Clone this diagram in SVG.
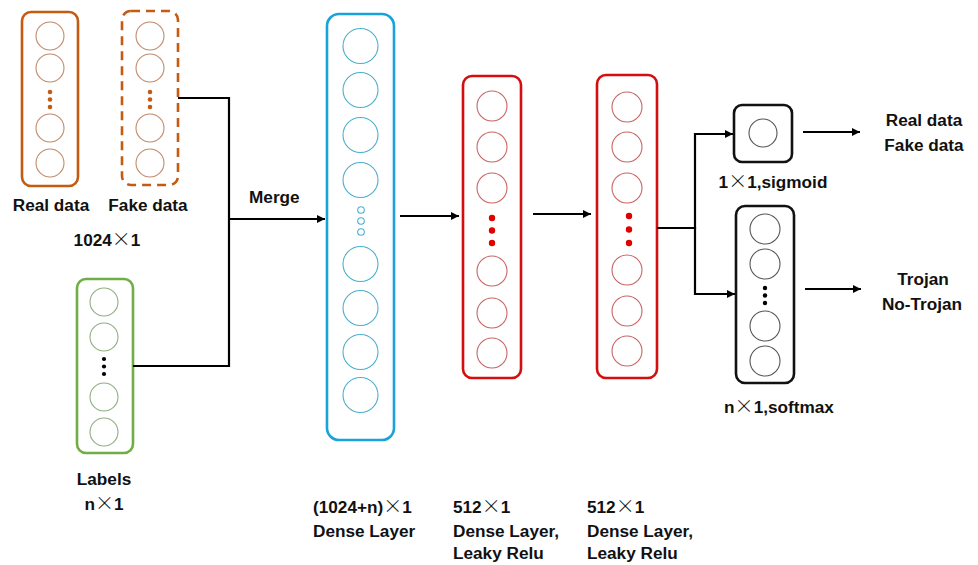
<svg xmlns="http://www.w3.org/2000/svg" width="978" height="565" viewBox="0 0 978 565">
  <defs>
    <marker id="arr" viewBox="0 0 10 10" refX="10" refY="5" markerWidth="9" markerHeight="8" markerUnits="userSpaceOnUse" orient="auto">
      <path d="M0,0 L10,5 L0,10 z" fill="#000"/>
    </marker>
    <style>
      text { font-family: "Liberation Sans", Arial, sans-serif; font-weight: bold; font-size: 17.2px; fill: #111; }
      .x { font-family: "Noto Sans CJK SC", "DejaVu Sans", sans-serif; font-weight: 300; font-size: 19px; }
      .mid { text-anchor: middle; }
      .box { fill: #fff; stroke-width: 2.6; }
      .orange { stroke: #C55A11; }
      .green { stroke: #70AD47; }
      .blue { stroke: #1AA3DB; }
      .red { stroke: #D40E0E; }
      .black { stroke: #111; }
      .n { fill: none; stroke-width: 1.1; }
      .no { stroke: #C08A68; }
      .ng { stroke: #8FAD80; }
      .nb { stroke: #4BAFCB; }
      .nr { stroke: #C86464; }
      .nk { stroke: #555; }
      .link { fill: none; stroke: #000; stroke-width: 2.2; }
    </style>
  </defs>

  <!-- input: real data -->
  <g id="real-data">
    <rect class="box orange" x="22" y="12" width="56" height="174" rx="9"/>
    <g class="n no">
      <circle cx="50" cy="36" r="14"/>
      <circle cx="50" cy="68" r="14"/>
      <circle cx="50" cy="128" r="14"/>
      <circle cx="50" cy="163" r="14"/>
    </g>
    <g fill="#C55A11">
      <circle cx="50" cy="92" r="2.3"/>
      <circle cx="50" cy="99.5" r="2.3"/>
      <circle cx="50" cy="107" r="2.3"/>
    </g>
    <text class="mid" x="51" y="211">Real data</text>
  </g>

  <!-- input: fake data -->
  <g id="fake-data">
    <rect class="box orange" x="122" y="11" width="56" height="174" rx="9" stroke-dasharray="9 6"/>
    <g class="n no">
      <circle cx="150" cy="36" r="14"/>
      <circle cx="150" cy="68" r="14"/>
      <circle cx="150" cy="128" r="14"/>
      <circle cx="150" cy="163" r="14"/>
    </g>
    <g fill="#C55A11">
      <circle cx="150" cy="92" r="2.3"/>
      <circle cx="150" cy="99.5" r="2.3"/>
      <circle cx="150" cy="107" r="2.3"/>
    </g>
    <text class="mid" x="148" y="211">Fake data</text>
    <text class="mid" x="107" y="246">1024<tspan class="x">×</tspan>1</text>
  </g>

  <!-- input: labels -->
  <g id="labels">
    <rect class="box green" x="77" y="279" width="56" height="174" rx="9"/>
    <g class="n ng">
      <circle cx="104" cy="302" r="14"/>
      <circle cx="104" cy="337" r="14"/>
      <circle cx="104" cy="397" r="14"/>
      <circle cx="104" cy="432" r="14"/>
    </g>
    <g fill="#000">
      <circle cx="104" cy="359" r="2.1"/>
      <circle cx="104" cy="366.5" r="2.1"/>
      <circle cx="104" cy="374" r="2.1"/>
    </g>
    <text class="mid" x="104" y="485">Labels</text>
    <text class="mid" x="104" y="510">n<tspan class="x">×</tspan>1</text>
  </g>

  <!-- merged dense layer -->
  <g id="dense-merge">
    <rect class="box blue" x="327" y="14" width="67" height="426" rx="12"/>
    <g class="n nb">
      <circle cx="360.5" cy="46" r="17.5"/>
      <circle cx="360.5" cy="90" r="17.5"/>
      <circle cx="360.5" cy="135" r="17.5"/>
      <circle cx="360.5" cy="180" r="17.5"/>
      <circle cx="361" cy="210" r="3.3"/>
      <circle cx="361" cy="221" r="3.3"/>
      <circle cx="361" cy="232" r="3.3"/>
      <circle cx="360.5" cy="264" r="17.5"/>
      <circle cx="360.5" cy="308" r="17.5"/>
      <circle cx="360.5" cy="352" r="17.5"/>
      <circle cx="360.5" cy="395" r="17.5"/>
    </g>
    <text x="313" y="513">(1024+n)<tspan class="x">×</tspan>1</text>
    <text x="313" y="537">Dense Layer</text>
  </g>

  <!-- hidden layer 1 -->
  <g id="dense-512-a">
    <rect class="box red" x="463" y="76" width="58" height="302" rx="9"/>
    <g class="n nr">
      <circle cx="492" cy="106" r="15"/>
      <circle cx="492" cy="147" r="15"/>
      <circle cx="492" cy="188" r="15"/>
      <circle cx="492" cy="271" r="15"/>
      <circle cx="492" cy="313" r="15"/>
      <circle cx="492" cy="353" r="15"/>
    </g>
    <g fill="#E00000">
      <circle cx="492" cy="218" r="3.2"/>
      <circle cx="492" cy="230.5" r="3.2"/>
      <circle cx="492" cy="243" r="3.2"/>
    </g>
    <text x="453" y="513">512<tspan class="x">×</tspan>1</text>
    <text x="453" y="537">Dense Layer,</text>
    <text x="453" y="559">Leaky Relu</text>
  </g>

  <!-- hidden layer 2 -->
  <g id="dense-512-b">
    <rect class="box red" x="597" y="75" width="60" height="303" rx="9"/>
    <g class="n nr">
      <circle cx="627" cy="107" r="15"/>
      <circle cx="627" cy="147" r="15"/>
      <circle cx="627" cy="188" r="15"/>
      <circle cx="627" cy="270" r="15"/>
      <circle cx="627" cy="311" r="15"/>
      <circle cx="627" cy="351" r="15"/>
    </g>
    <g fill="#E00000">
      <circle cx="629" cy="216" r="3.2"/>
      <circle cx="629" cy="229.5" r="3.2"/>
      <circle cx="629" cy="243" r="3.2"/>
    </g>
    <text x="587" y="513">512<tspan class="x">×</tspan>1</text>
    <text x="587" y="537">Dense Layer,</text>
    <text x="587" y="559">Leaky Relu</text>
  </g>

  <!-- sigmoid output -->
  <g id="out-sigmoid">
    <rect class="box black" x="734" y="105" width="58" height="57" rx="8"/>
    <circle class="n nk" cx="763" cy="133" r="14"/>
    <text class="mid" x="773" y="188">1<tspan class="x">×</tspan>1,sigmoid</text>
  </g>

  <!-- softmax output -->
  <g id="out-softmax">
    <rect class="box black" x="736" y="206" width="58" height="177" rx="9"/>
    <g class="n nk">
      <circle cx="765" cy="229" r="15"/>
      <circle cx="765" cy="264" r="15"/>
      <circle cx="765" cy="326" r="15"/>
      <circle cx="765" cy="361" r="15"/>
    </g>
    <g fill="#000">
      <circle cx="765" cy="288" r="2.2"/>
      <circle cx="765" cy="295.5" r="2.2"/>
      <circle cx="765" cy="303" r="2.2"/>
    </g>
    <text class="mid" x="779" y="413">n<tspan class="x">×</tspan>1,softmax</text>
  </g>

  <!-- result labels -->
  <g id="result-realfake">
    <text class="mid" x="924" y="126">Real data</text>
    <text class="mid" x="924" y="151">Fake data</text>
  </g>
  <g id="result-trojan">
    <text class="mid" x="923" y="285">Trojan</text>
    <text class="mid" x="922" y="310">No-Trojan</text>
  </g>

  <!-- connectors -->
  <g id="connectors">
    <polyline class="link" points="178,98 229,98 229,366 133,366"/>
    <line class="link" x1="229" y1="219" x2="325" y2="219" marker-end="url(#arr)"/>
    <text x="249" y="203">Merge</text>
    <line class="link" x1="400" y1="216" x2="459" y2="216" marker-end="url(#arr)"/>
    <line class="link" x1="533" y1="214" x2="591" y2="214" marker-end="url(#arr)"/>
    <polyline class="link" points="657,228 695,228"/>
    <polyline class="link" points="695,229 695,134 733,134" marker-end="url(#arr)"/>
    <polyline class="link" points="695,227 695,294 735,294" marker-end="url(#arr)"/>
    <line class="link" x1="803" y1="132" x2="860" y2="132" marker-end="url(#arr)"/>
    <line class="link" x1="805" y1="289" x2="861" y2="289" marker-end="url(#arr)"/>
  </g>
</svg>
